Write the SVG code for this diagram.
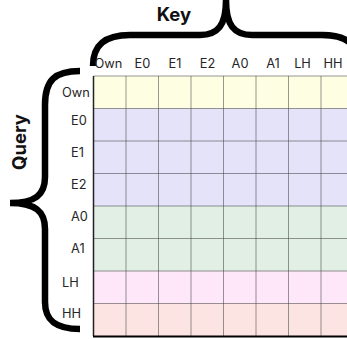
<svg xmlns="http://www.w3.org/2000/svg" width="347" height="339" viewBox="0 0 347 339">
<style>
.lbl{font-family:Inter,"Liberation Sans",sans-serif;font-size:12.8px;fill:#262626}
.title{font-family:Inter,"Liberation Sans",sans-serif;font-size:18.5px;font-weight:bold;fill:#111}
.brace{fill:none;stroke:#000;stroke-width:6.5;stroke-linecap:butt}
.grid{stroke:#444;stroke-opacity:0.55;stroke-width:1;fill:none}
</style>
<rect width="347" height="339" fill="#fff"/>
<g id="rows">
<rect x="93.5" y="76" width="270" height="32.5" fill="#fefee3"/>
<rect x="93.5" y="108.5" width="270" height="97.5" fill="#e4e3f9"/>
<rect x="93.5" y="206" width="270" height="65" fill="#e1efe5"/>
<rect x="93.5" y="271" width="270" height="32.5" fill="#fde7f9"/>
<rect x="93.5" y="303.5" width="270" height="32.5" fill="#fbe4e2"/>
</g>
<g id="connectors">
<path class="grid" d="M93.5 76H347M93.5 108.5H347M93.5 141H347M93.5 173.5H347M93.5 206H347M93.5 238.5H347M93.5 271H347M93.5 303.5H347"/>
<path class="grid" d="M126 76V336M158.5 76V336M191 76V336M223.5 76V336M256 76V336M288.5 76V336M321 76V336"/>
<path d="M93.5 76V336" stroke="#222" stroke-width="1.5"/>
<path d="M93 336.5H347" stroke="#000" stroke-width="2"/>
</g>
<g id="key-brace">
<path class="brace" d="M93 66C93 45 105 35 130 35L200 35C218 35 226 25 226 0M226 0C226 25 234 35 252 35L322 35C347 35 359 45 359 66"/>
<text class="title" x="174" y="21" text-anchor="middle">Key</text>
</g>
<g id="query-brace">
<path class="brace" d="M80 71C55 71 45 80 45 105L45 177C45 195 35 203 10 203M10 203C35 203 45 211 45 229L45 302C45 320 55 329 80 329"/>
<text class="title" transform="translate(26,142) rotate(-90)" text-anchor="middle">Query</text>
</g>
<g id="col-labels">
<text class="lbl" x="108.5" y="68" text-anchor="middle">Own</text>
<text class="lbl" x="142.5" y="68" text-anchor="middle">E0</text>
<text class="lbl" x="175" y="68" text-anchor="middle">E1</text>
<text class="lbl" x="207.5" y="68" text-anchor="middle">E2</text>
<text class="lbl" x="240" y="68" text-anchor="middle">A0</text>
<text class="lbl" x="273" y="68" text-anchor="middle">A1</text>
<text class="lbl" x="302.5" y="68" text-anchor="middle">LH</text>
<text class="lbl" x="333" y="68" text-anchor="middle">HH</text>
</g>
<g id="row-labels">
<text class="lbl" x="62" y="97">Own</text>
<text class="lbl" x="71" y="125">E0</text>
<text class="lbl" x="71" y="157">E1</text>
<text class="lbl" x="71" y="189">E2</text>
<text class="lbl" x="71" y="221">A0</text>
<text class="lbl" x="71" y="253">A1</text>
<text class="lbl" x="62" y="287">LH</text>
<text class="lbl" x="62" y="318">HH</text>
</g>
</svg>
